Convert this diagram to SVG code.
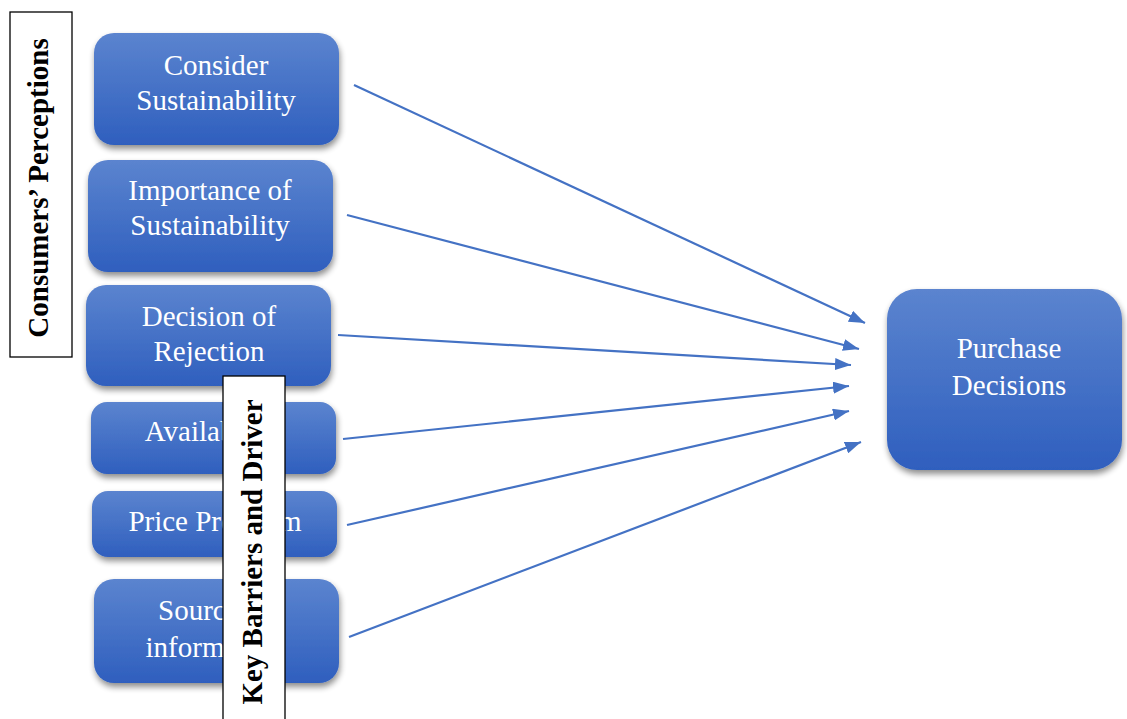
<svg xmlns="http://www.w3.org/2000/svg" width="1127" height="719" viewBox="0 0 1127 719">
<defs>
<linearGradient id="g" x1="0" y1="0" x2="0" y2="1">
<stop offset="0" stop-color="#5B84CF"/>
<stop offset="1" stop-color="#2F5FBE"/>
</linearGradient>
<filter id="sh" x="-10%" y="-10%" width="125%" height="130%">
<feGaussianBlur in="SourceAlpha" stdDeviation="3"/>
<feOffset dx="1" dy="4" result="b"/>
<feComponentTransfer><feFuncA type="linear" slope="0.45"/></feComponentTransfer>
<feMerge><feMergeNode/><feMergeNode in="SourceGraphic"/></feMerge>
</filter>
<marker id="ah" markerUnits="userSpaceOnUse" markerWidth="16" markerHeight="12" refX="16" refY="6" orient="auto">
<path d="M0,0 L16,6 L0,12 Z" fill="#4472C4"/>
</marker>
<style>
.box{fill:url(#g);filter:url(#sh);}
.t{font-family:"Liberation Serif","Times New Roman",serif;font-size:29px;fill:#ffffff;text-anchor:middle;}
.lb{fill:#ffffff;stroke:#000000;stroke-width:1.3;}
.lt{font-family:"Liberation Serif","Times New Roman",serif;font-size:29px;font-weight:bold;fill:#000000;text-anchor:middle;}
.c{stroke:#4472C4;stroke-width:2.2;fill:none;marker-end:url(#ah);}
</style>
</defs>
<rect width="1127" height="719" fill="#ffffff"/>

<g id="connectors">
<line class="c" x1="354" y1="85" x2="865" y2="323"/>
<line class="c" x1="347" y1="215" x2="859" y2="349"/>
<line class="c" x1="338" y1="335" x2="851" y2="365"/>
<line class="c" x1="343" y1="439" x2="849" y2="386"/>
<line class="c" x1="347" y1="525" x2="849" y2="411"/>
<line class="c" x1="349" y1="637" x2="861" y2="442"/>
</g>

<g id="n1">
<rect class="box" x="94" y="33" width="245" height="112" rx="20"/>
<text class="t" x="216" y="75">Consider</text>
<text class="t" x="216" y="110">Sustainability</text>
</g>
<g id="n2">
<rect class="box" x="88" y="160" width="245" height="112" rx="20"/>
<text class="t" x="210" y="200">Importance of</text>
<text class="t" x="210" y="235">Sustainability</text>
</g>
<g id="n3">
<rect class="box" x="86" y="285" width="245" height="101" rx="20"/>
<text class="t" x="209" y="326">Decision of</text>
<text class="t" x="209" y="361">Rejection</text>
</g>
<g id="n4">
<rect class="box" x="91" y="402" width="245" height="72" rx="16"/>
<text class="t" x="213" y="441">Availability</text>
</g>
<g id="n5">
<rect class="box" x="92" y="491" width="245" height="66" rx="16"/>
<text class="t" x="215" y="531">Price Premium</text>
</g>
<g id="n6">
<rect class="box" x="94" y="579" width="245" height="104" rx="20"/>
<text class="t" x="214" y="620">Source of</text>
<text class="t" x="214" y="657">information</text>
</g>
<g id="n7">
<rect class="box" x="887" y="289" width="235" height="181" rx="30"/>
<text class="t" x="1009" y="358">Purchase</text>
<text class="t" x="1009" y="395">Decisions</text>
</g>

<g id="label-perceptions">
<rect class="lb" x="10" y="12" width="62" height="345"/>
<text class="lt" transform="translate(48,188) rotate(-90)">Consumers’ Perceptions</text>
</g>
<g id="label-barriers">
<rect class="lb" x="223" y="376" width="62" height="350"/>
<text class="lt" transform="translate(262,552) rotate(-90)">Key Barriers and Driver</text>
</g>
</svg>
